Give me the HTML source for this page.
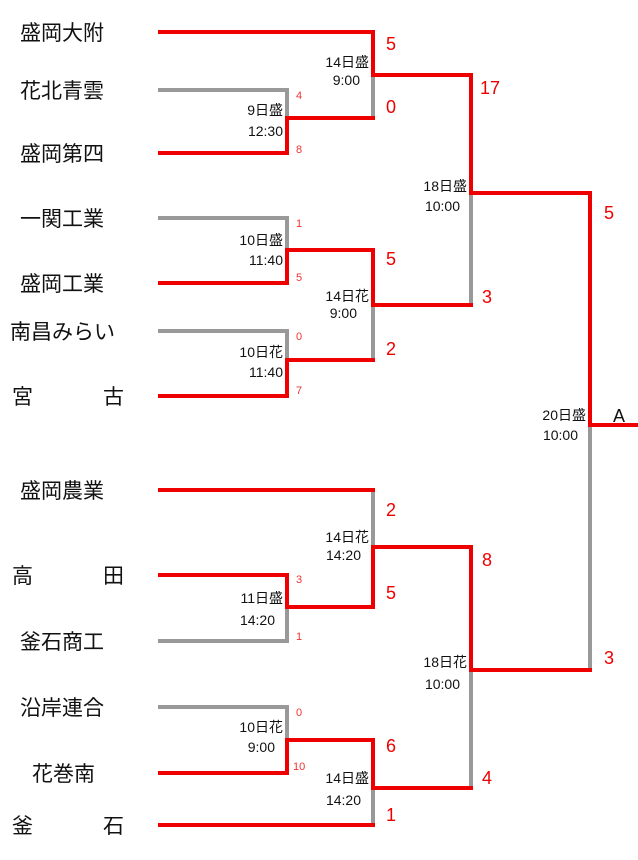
<!DOCTYPE html>
<html><head><meta charset="utf-8"><style>
body{margin:0;background:#fff;}
svg{display:block;}
.t{font-family:"Liberation Sans","Noto Sans CJK JP",sans-serif;font-size:21px;fill:#111;}
.l{font-family:"Liberation Sans","Noto Sans CJK JP",sans-serif;font-size:14px;fill:#111;text-anchor:end;}
.s{font-family:"Liberation Sans",sans-serif;font-size:11px;fill:#e33;}
.b{font-family:"Liberation Sans",sans-serif;font-size:18px;fill:#e00;}
</style></head><body>
<svg width="638" height="860" viewBox="0 0 638 860">
<g fill="none" stroke-width="4" stroke-linecap="square">
<!-- gray -->
<g stroke="#999">
<path d="M160 90H287V118"/><path d="M373 75V118"/>
<path d="M160 218H287V250"/><path d="M373 305V360"/>
<path d="M160 331H287V360"/><path d="M471 193V305"/>
<path d="M590 425V670"/>
<path d="M373 490V547"/><path d="M287 607V641H160"/>
<path d="M471 670V788"/>
<path d="M160 707H287V740"/><path d="M373 788V825"/>
</g>
<g stroke="#e00">
<path d="M160 32H373V75H471V193H590V425H638"/>
<path d="M160 153H287V118H373"/>
<path d="M160 283H287V250H373V305H471"/>
<path d="M160 396H287V360H373"/>
<path d="M160 490H373"/>
<path d="M160 575H287V607H373V547H471V670H590"/>
<path d="M160 773H287V740H373V788H471"/>
<path d="M160 825H373"/>
</g>
</g>
<g class="t">
<text x="20" y="40">盛岡大附</text>
<text x="20" y="98">花北青雲</text>
<text x="20" y="161">盛岡第四</text>
<text x="20" y="226">一関工業</text>
<text x="20" y="291">盛岡工業</text>
<text x="10" y="339">南昌みらい</text>
<text x="12" y="404">宮</text><text x="103" y="404">古</text>
<text x="20" y="498">盛岡農業</text>
<text x="12" y="583">高</text><text x="103" y="583">田</text>
<text x="20" y="649">釜石商工</text>
<text x="20" y="715">沿岸連合</text>
<text x="32" y="781">花巻南</text>
<text x="12" y="833">釜</text><text x="103" y="833">石</text>
</g>
<g class="l">
<text x="369" y="67">14日盛</text><text x="360" y="85">9:00</text>
<text x="283" y="115">9日盛</text><text x="283" y="136">12:30</text>
<text x="467" y="191">18日盛</text><text x="460" y="211">10:00</text>
<text x="283" y="245">10日盛</text><text x="283" y="265">11:40</text>
<text x="369" y="301">14日花</text><text x="357" y="318">9:00</text>
<text x="283" y="357">10日花</text><text x="283" y="377">11:40</text>
<text x="586" y="420">20日盛</text><text x="578" y="440">10:00</text>
<text x="369" y="542">14日花</text><text x="361" y="560">14:20</text>
<text x="283" y="603">11日盛</text><text x="275" y="625">14:20</text>
<text x="467" y="667">18日花</text><text x="460" y="689">10:00</text>
<text x="283" y="732">10日花</text><text x="275" y="752">9:00</text>
<text x="369" y="783">14日盛</text><text x="361" y="805">14:20</text>
</g>
<g class="s">
<text x="296" y="99">4</text><text x="296" y="153">8</text>
<text x="296" y="227">1</text><text x="296" y="281">5</text>
<text x="296" y="340">0</text><text x="296" y="394">7</text>
<text x="296" y="583">3</text><text x="296" y="640">1</text>
<text x="296" y="716">0</text><text x="293" y="770">10</text>
</g>
<g class="b">
<text x="386" y="50">5</text><text x="386" y="113">0</text>
<text x="480" y="94">17</text>
<text x="386" y="265">5</text><text x="386" y="355">2</text>
<text x="482" y="303">3</text>
<text x="604" y="219">5</text>
<text x="386" y="516">2</text><text x="386" y="599">5</text>
<text x="482" y="566">8</text>
<text x="604" y="664">3</text>
<text x="386" y="752">6</text><text x="386" y="821">1</text>
<text x="482" y="784">4</text>
</g>
<text x="613" y="422" style="font-family:'Liberation Sans',sans-serif;font-size:18px;fill:#111">A</text>
</svg>
</body></html>
